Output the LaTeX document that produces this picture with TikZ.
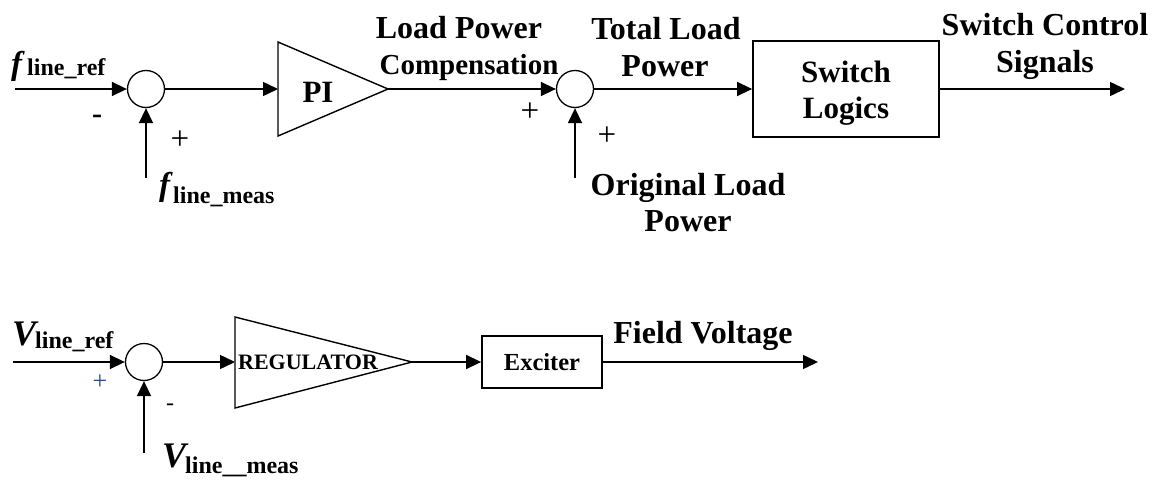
\documentclass[tikz,border=0pt]{standalone}
\usepackage{fontspec}
\setmainfont{Liberation Serif}
\usetikzlibrary{arrows.meta}
\definecolor{signblue}{HTML}{1F4E9F}
\tikzset{
  conn/.style={line width=1.5pt,-{Triangle[length=15pt,width=14pt]}},
  sumj/.style={draw,circle,line width=1.3pt,minimum size=37pt,inner sep=0pt},
  blockbox/.style={draw,line width=1.8pt,inner sep=0pt},
  tri/.style={draw,line width=1.4pt,line join=miter},
  lbl/.style={inner sep=0pt,anchor=base,font=\fontsize{32}{36}\selectfont\bfseries},
  sgn/.style={inner sep=0pt,font=\fontsize{33}{35}\selectfont},
  varl/.style={inner sep=0pt,anchor=base west}
}
\newcommand{\bigf}[1]{{\fontsize{33}{35}\selectfont\bfseries\itshape #1}}
\newcommand{\bigV}[1]{{\fontsize{36}{38}\selectfont\bfseries\itshape #1}}
\newcommand{\subv}[1]{{\fontsize{24}{26}\selectfont\bfseries #1}}
\begin{document}
\begin{tikzpicture}[x=1pt,y=-1pt]
\useasboundingbox (0,0) rectangle (1156,479);
% ---------- top loop ----------
\node[sumj] (c1) at (146,89) {};
\coordinate (fin) at (15,89);
\coordinate (fm) at (146,178);
\coordinate (pin) at (278,89);
\coordinate (pout) at (388,89);
\draw[tri] (278,42) -- (pout) -- (278,136) -- cycle;
\node[inner sep=0pt,anchor=base,font=\fontsize{31}{33}\selectfont\bfseries] (pi) at (318,102) {PI};
\node[sumj] (c2) at (575,89) {};
\coordinate (olp) at (575,178);
\node[blockbox,minimum width=186pt,minimum height=96pt] (sw) at (846,89) {};
\node[lbl,font=\fontsize{31}{33}\selectfont\bfseries] (swa) at (846,82) {Switch};
\node[lbl,font=\fontsize{31}{33}\selectfont\bfseries] (swb) at (846,118) {Logics};
\coordinate (sout) at (1125,89);

\draw[conn] (fin) -- (c1.west);
\draw[conn] (fm) -- (c1.south);
\draw[conn] (c1.east) -- (pin);
\draw[conn] (pout) -- (c2.west);
\draw[conn] (olp) -- (c2.south);
\draw[conn] (c2.east) -- (sw.west);
\draw[conn] (sw.east) -- (sout);

\node[varl] (fref) at (11,74) {\bigf{f}\hspace{5pt}\raisebox{-1pt}{\subv{line\_ref}}};
\node[varl] (fmeas) at (159,195) {\bigf{f}\hspace{3pt}\raisebox{-8pt}{\subv{line\_meas}}};
\node[sgn,font=\fontsize{30}{32}\selectfont\bfseries] (m1) at (97,119) {-};
\node[sgn] (p1) at (180,140) {+};
\node[sgn] (p2) at (530,112) {+};
\node[sgn] (p3) at (607,136) {+};

\node[lbl] (lpa) at (459,38) {Load Power};
\node[lbl,font=\fontsize{29}{33}\selectfont\bfseries] (lpb) at (469,74) {Compensation};
\node[lbl] (tla) at (666,39) {Total Load};
\node[lbl] (tlb) at (665,76) {Power};
\node[lbl] (ola) at (688,195) {Original Load};
\node[lbl] (olb) at (688,231) {Power};
\node[lbl] (sca) at (1045,35) {Switch Control};
\node[lbl] (scb) at (1045,72) {Signals};

% ---------- bottom loop ----------
\node[sumj] (c3) at (144,362) {};
\coordinate (vin) at (13,362);
\coordinate (vm) at (144,453);
\coordinate (rin) at (235,362);
\coordinate (rout) at (412,362);
\draw[tri] (235,317) -- (rout) -- (235,408) -- cycle;
\node[inner sep=0pt,font=\fontsize{22}{24}\selectfont\bfseries] (reg) at (308,362) {REGULATOR};
\node[blockbox,minimum width=120pt,minimum height=52pt,font=\fontsize{24.5}{26}\selectfont\bfseries] (ex) at (542,362) {Exciter};
\coordinate (fvout) at (818,362);

\draw[conn] (vin) -- (c3.west);
\draw[conn] (vm) -- (c3.south);
\draw[conn] (c3.east) -- (rin);
\draw[conn] (rout) -- (ex.west);
\draw[conn] (ex.east) -- (fvout);

\node[varl] (vref) at (12,345) {\bigV{V}\hspace{-1pt}\raisebox{-3pt}{\subv{line\_ref}}};
\node[varl] (vmeas) at (162,467) {\bigV{V}\hspace{-1pt}\raisebox{-6pt}{\subv{line\_\_meas}}};
\node[sgn,text=signblue,font=\fontsize{26}{28}\selectfont] (p4) at (100,382) {+};
\node[sgn,font=\fontsize{24}{26}\selectfont] (m2) at (170,407) {-};
\node[lbl] (fv) at (703,343) {Field Voltage};
\end{tikzpicture}
\end{document}
